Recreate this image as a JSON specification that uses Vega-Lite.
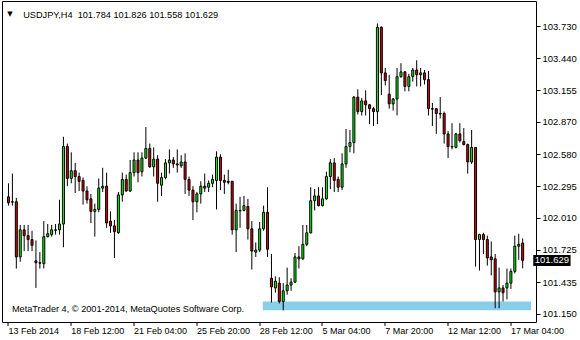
{
  "$schema": "https://vega.github.io/schema/vega-lite/v6.json",
  "width": 534,
  "height": 321,
  "autosize": {"type": "none"},
  "padding": {"left": 2, "top": 1, "right": 44, "bottom": 18},
  "background": "white",
  "config": {
    "view": {"stroke": "black", "strokeWidth": 1},
    "font": "Liberation Sans",
    "axis": {"labelFont": "Liberation Sans", "labelFontSize": 9.5, "labelColor": "black", "tickColor": "black", "domainColor": "black", "grid": false, "title": null, "tickWidth": 1, "labelOverlap": false, "labelSeparation": 0}
  },
  "datasets": {
    "bars": [
      {"i":0,"o":102.199,"h":102.320,"l":102.120,"c":102.146},
      {"i":1,"o":102.151,"h":102.407,"l":102.120,"c":102.155},
      {"i":2,"o":102.155,"h":102.190,"l":101.556,"c":101.660},
      {"i":3,"o":101.660,"h":101.947,"l":101.617,"c":101.903},
      {"i":4,"o":101.903,"h":101.947,"l":101.712,"c":101.851},
      {"i":5,"o":101.851,"h":101.947,"l":101.712,"c":101.816},
      {"i":6,"o":101.816,"h":101.895,"l":101.712,"c":101.764},
      {"i":7,"o":101.625,"h":101.808,"l":101.382,"c":101.608},
      {"i":8,"o":101.608,"h":101.703,"l":101.556,"c":101.604},
      {"i":9,"o":101.599,"h":101.981,"l":101.556,"c":101.842},
      {"i":10,"o":101.842,"h":101.955,"l":101.834,"c":101.868},
      {"i":11,"o":101.860,"h":101.947,"l":101.842,"c":101.903},
      {"i":12,"o":101.899,"h":101.955,"l":101.860,"c":101.903},
      {"i":13,"o":101.903,"h":102.172,"l":101.860,"c":101.955},
      {"i":14,"o":101.955,"h":102.737,"l":101.747,"c":102.650},
      {"i":15,"o":102.650,"h":102.676,"l":102.294,"c":102.364},
      {"i":16,"o":102.364,"h":102.598,"l":102.320,"c":102.433},
      {"i":17,"o":102.433,"h":102.503,"l":102.233,"c":102.381},
      {"i":18,"o":102.381,"h":102.416,"l":102.251,"c":102.338},
      {"i":19,"o":102.346,"h":102.372,"l":102.129,"c":102.251},
      {"i":20,"o":102.251,"h":102.294,"l":102.138,"c":102.172},
      {"i":21,"o":102.181,"h":102.225,"l":101.964,"c":102.068},
      {"i":22,"o":102.068,"h":102.138,"l":101.842,"c":102.086},
      {"i":23,"o":102.086,"h":102.364,"l":102.060,"c":102.277},
      {"i":24,"o":102.277,"h":102.459,"l":102.242,"c":102.294},
      {"i":25,"o":102.294,"h":102.416,"l":101.921,"c":101.964},
      {"i":26,"o":101.981,"h":102.068,"l":101.877,"c":101.938},
      {"i":27,"o":101.938,"h":101.990,"l":101.651,"c":101.886},
      {"i":28,"o":101.877,"h":102.242,"l":101.868,"c":102.216},
      {"i":29,"o":102.216,"h":102.416,"l":102.155,"c":102.355},
      {"i":30,"o":102.355,"h":102.398,"l":102.245,"c":102.251},
      {"i":31,"o":102.251,"h":102.529,"l":102.242,"c":102.416},
      {"i":32,"o":102.416,"h":102.598,"l":102.381,"c":102.529},
      {"i":33,"o":102.529,"h":102.598,"l":102.329,"c":102.416},
      {"i":34,"o":102.424,"h":102.598,"l":102.381,"c":102.546},
      {"i":35,"o":102.546,"h":102.824,"l":102.537,"c":102.633},
      {"i":36,"o":102.633,"h":102.676,"l":102.459,"c":102.468},
      {"i":37,"o":102.468,"h":102.642,"l":102.381,"c":102.537},
      {"i":38,"o":102.537,"h":102.572,"l":102.155,"c":102.320},
      {"i":39,"o":102.303,"h":102.416,"l":102.207,"c":102.372},
      {"i":40,"o":102.372,"h":102.537,"l":102.355,"c":102.503},
      {"i":41,"o":102.503,"h":102.624,"l":102.407,"c":102.529},
      {"i":42,"o":102.529,"h":102.555,"l":102.459,"c":102.494},
      {"i":43,"o":102.494,"h":102.624,"l":102.416,"c":102.485},
      {"i":44,"o":102.477,"h":102.572,"l":102.459,"c":102.511},
      {"i":45,"o":102.511,"h":102.589,"l":102.225,"c":102.355},
      {"i":46,"o":102.355,"h":102.381,"l":102.207,"c":102.259},
      {"i":47,"o":102.259,"h":102.294,"l":101.990,"c":102.155},
      {"i":48,"o":102.155,"h":102.242,"l":102.060,"c":102.225},
      {"i":49,"o":102.225,"h":102.338,"l":102.138,"c":102.294},
      {"i":50,"o":102.294,"h":102.407,"l":102.242,"c":102.277},
      {"i":51,"o":102.285,"h":102.346,"l":102.242,"c":102.320},
      {"i":52,"o":102.320,"h":102.398,"l":102.285,"c":102.355},
      {"i":53,"o":102.346,"h":102.607,"l":102.086,"c":102.555},
      {"i":54,"o":102.555,"h":102.581,"l":102.259,"c":102.346},
      {"i":55,"o":102.346,"h":102.398,"l":102.225,"c":102.329},
      {"i":56,"o":102.338,"h":102.442,"l":102.311,"c":102.329},
      {"i":57,"o":102.338,"h":102.342,"l":101.860,"c":101.903},
      {"i":58,"o":101.903,"h":102.138,"l":101.703,"c":102.077},
      {"i":59,"o":102.077,"h":102.199,"l":101.921,"c":102.073},
      {"i":60,"o":102.077,"h":102.207,"l":102.068,"c":102.120},
      {"i":61,"o":102.112,"h":102.181,"l":101.816,"c":101.912},
      {"i":62,"o":101.912,"h":101.981,"l":101.547,"c":101.712},
      {"i":63,"o":101.703,"h":101.790,"l":101.660,"c":101.721},
      {"i":64,"o":101.721,"h":101.973,"l":101.703,"c":101.912},
      {"i":65,"o":101.912,"h":102.120,"l":101.895,"c":102.060},
      {"i":66,"o":102.060,"h":102.285,"l":101.660,"c":101.729},
      {"i":67,"o":101.469,"h":101.686,"l":101.252,"c":101.391},
      {"i":68,"o":101.382,"h":101.486,"l":101.339,"c":101.443},
      {"i":69,"o":101.425,"h":101.478,"l":101.243,"c":101.260},
      {"i":70,"o":101.260,"h":101.425,"l":101.182,"c":101.356},
      {"i":71,"o":101.356,"h":101.564,"l":101.321,"c":101.408},
      {"i":72,"o":101.408,"h":101.469,"l":101.356,"c":101.434},
      {"i":73,"o":101.434,"h":101.695,"l":101.425,"c":101.660},
      {"i":74,"o":101.660,"h":101.756,"l":101.556,"c":101.643},
      {"i":75,"o":101.643,"h":101.947,"l":101.634,"c":101.773},
      {"i":76,"o":101.773,"h":101.947,"l":101.756,"c":101.877},
      {"i":77,"o":101.877,"h":102.285,"l":101.868,"c":102.164},
      {"i":78,"o":102.164,"h":102.268,"l":102.077,"c":102.207},
      {"i":79,"o":102.207,"h":102.285,"l":102.112,"c":102.120},
      {"i":80,"o":102.120,"h":102.285,"l":102.112,"c":102.181},
      {"i":81,"o":102.181,"h":102.424,"l":102.172,"c":102.381},
      {"i":82,"o":102.381,"h":102.537,"l":102.268,"c":102.503},
      {"i":83,"o":102.503,"h":102.546,"l":102.242,"c":102.346},
      {"i":84,"o":102.355,"h":102.381,"l":102.242,"c":102.285},
      {"i":85,"o":102.285,"h":102.589,"l":102.259,"c":102.494},
      {"i":86,"o":102.494,"h":102.807,"l":102.459,"c":102.650},
      {"i":87,"o":102.650,"h":102.798,"l":102.598,"c":102.685},
      {"i":88,"o":102.685,"h":103.102,"l":102.589,"c":103.093},
      {"i":89,"o":103.093,"h":103.163,"l":102.937,"c":102.963},
      {"i":90,"o":102.963,"h":103.085,"l":102.928,"c":103.059},
      {"i":91,"o":103.059,"h":103.154,"l":102.928,"c":103.024},
      {"i":92,"o":103.024,"h":103.032,"l":102.850,"c":102.989},
      {"i":93,"o":102.989,"h":103.006,"l":102.833,"c":102.963},
      {"i":94,"o":102.963,"h":103.753,"l":102.850,"c":103.719},
      {"i":95,"o":103.719,"h":103.727,"l":103.111,"c":103.310},
      {"i":96,"o":103.310,"h":103.354,"l":103.198,"c":103.241},
      {"i":97,"o":103.119,"h":103.293,"l":102.989,"c":103.032},
      {"i":98,"o":103.032,"h":103.085,"l":102.972,"c":103.076},
      {"i":99,"o":103.076,"h":103.354,"l":102.928,"c":103.276},
      {"i":100,"o":103.276,"h":103.397,"l":103.267,"c":103.319},
      {"i":101,"o":103.319,"h":103.328,"l":103.145,"c":103.189},
      {"i":102,"o":103.189,"h":103.302,"l":103.145,"c":103.276},
      {"i":103,"o":103.276,"h":103.354,"l":103.232,"c":103.336},
      {"i":104,"o":103.336,"h":103.423,"l":103.189,"c":103.293},
      {"i":105,"o":103.293,"h":103.354,"l":103.189,"c":103.310},
      {"i":106,"o":103.310,"h":103.336,"l":103.206,"c":103.250},
      {"i":107,"o":103.250,"h":103.328,"l":102.928,"c":102.989},
      {"i":108,"o":102.989,"h":103.041,"l":102.833,"c":102.985},
      {"i":109,"o":102.989,"h":102.993,"l":102.763,"c":102.946},
      {"i":110,"o":102.946,"h":103.093,"l":102.902,"c":102.941},
      {"i":111,"o":102.946,"h":102.963,"l":102.676,"c":102.763},
      {"i":112,"o":102.763,"h":102.789,"l":102.546,"c":102.650},
      {"i":113,"o":102.650,"h":102.859,"l":102.624,"c":102.646},
      {"i":114,"o":102.642,"h":102.772,"l":102.633,"c":102.763},
      {"i":115,"o":102.763,"h":102.859,"l":102.685,"c":102.702},
      {"i":116,"o":102.694,"h":102.815,"l":102.659,"c":102.668},
      {"i":117,"o":102.668,"h":102.676,"l":102.407,"c":102.511},
      {"i":118,"o":102.511,"h":102.798,"l":102.494,"c":102.642},
      {"i":119,"o":102.642,"h":102.646,"l":101.573,"c":101.816},
      {"i":120,"o":101.816,"h":101.868,"l":101.538,"c":101.860},
      {"i":121,"o":101.860,"h":101.877,"l":101.686,"c":101.816},
      {"i":122,"o":101.816,"h":101.851,"l":101.582,"c":101.651},
      {"i":123,"o":101.660,"h":101.799,"l":101.495,"c":101.634},
      {"i":124,"o":101.643,"h":101.686,"l":101.200,"c":101.347},
      {"i":125,"o":101.347,"h":101.564,"l":101.200,"c":101.382},
      {"i":126,"o":101.382,"h":101.408,"l":101.260,"c":101.339},
      {"i":127,"o":101.382,"h":101.556,"l":101.278,"c":101.425},
      {"i":128,"o":101.425,"h":101.556,"l":101.373,"c":101.530},
      {"i":129,"o":101.530,"h":101.851,"l":101.512,"c":101.756},
      {"i":130,"o":101.756,"h":101.868,"l":101.634,"c":101.773},
      {"i":131,"o":101.784,"h":101.826,"l":101.558,"c":101.629}
    ],
    "zone": [{"from": 64.8, "to": 133.125, "low": 101.182, "high": 101.260}],
    "last": [{"from": 133.7, "to": 143.2, "price": 101.629, "label": "101.629"}]
  },
  "layer": [
    {
      "data": {"name": "zone"},
      "mark": {"type": "rect", "color": "#87ceeb"},
      "encoding": {
        "x": {"field": "from", "type": "quantitative", "scale": {"domain": [-0.375, 133.125], "nice": false, "zero": false},
          "axis": {"values": [0,16,32,48,64,80,96,112,128], "tickCount": 20, "labelExpr": "['13 Feb 2014','18 Feb 12:00','21 Feb 04:00','25 Feb 20:00','28 Feb 12:00','5 Mar 04:00','7 Mar 20:00','12 Mar 12:00','17 Mar 04:00'][round(datum.value/16)]", "labelAlign": "left", "labelBaseline": "top", "labelFontSize": 9, "tickSize": 4, "labelPadding": 1, "labelOffset": 0, "labelFlush": false, "labelOverlap": false, "domain": false, "translate": 0}},
        "x2": {"field": "to"},
        "y": {"field": "low", "type": "quantitative", "scale": {"domain": [101.1214, 103.9098], "nice": false, "zero": false},
          "axis": {"orient": "right", "values": [101.150,101.435,101.725,102.010,102.295,102.580,102.870,103.155,103.440,103.730], "tickCount": 20, "format": ".3f", "tickSize": 4, "labelPadding": 2, "labelAlign": "left", "labelBaseline": "middle", "labelOverlap": false, "labelFlush": false, "domain": false}},
        "y2": {"field": "high"}
      }
    },
    {
      "data": {"name": "bars"},
      "mark": {"type": "rule", "color": "black", "strokeWidth": 1},
      "encoding": {
        "x": {"field": "i", "type": "quantitative", "scale": {"domain": [-0.375, 133.125], "nice": false, "zero": false},
          "axis": {"values": [0,16,32,48,64,80,96,112,128], "tickCount": 20, "labelExpr": "['13 Feb 2014','18 Feb 12:00','21 Feb 04:00','25 Feb 20:00','28 Feb 12:00','5 Mar 04:00','7 Mar 20:00','12 Mar 12:00','17 Mar 04:00'][round(datum.value/16)]", "labelAlign": "left", "labelBaseline": "top", "labelFontSize": 9, "tickSize": 4, "labelPadding": 1, "labelOffset": 0, "labelFlush": false, "labelOverlap": false, "domain": false, "translate": 0}},
        "y": {"field": "l", "type": "quantitative", "scale": {"domain": [101.1214, 103.9098], "nice": false, "zero": false},
          "axis": {"orient": "right", "values": [101.150,101.435,101.725,102.010,102.295,102.580,102.870,103.155,103.440,103.730], "tickCount": 20, "format": ".3f", "tickSize": 4, "labelPadding": 2, "labelAlign": "left", "labelBaseline": "middle", "labelOverlap": false, "labelFlush": false, "domain": false}},
        "y2": {"field": "h"}
      }
    },
    {
      "data": {"name": "bars"},
      "mark": {"type": "bar", "width": 2, "stroke": "black", "strokeWidth": 1},
      "encoding": {
        "x": {"field": "i", "type": "quantitative", "scale": {"domain": [-0.375, 133.125], "nice": false, "zero": false},
          "axis": {"values": [0,16,32,48,64,80,96,112,128], "tickCount": 20, "labelExpr": "['13 Feb 2014','18 Feb 12:00','21 Feb 04:00','25 Feb 20:00','28 Feb 12:00','5 Mar 04:00','7 Mar 20:00','12 Mar 12:00','17 Mar 04:00'][round(datum.value/16)]", "labelAlign": "left", "labelBaseline": "top", "labelFontSize": 9, "tickSize": 4, "labelPadding": 1, "labelOffset": 0, "labelFlush": false, "labelOverlap": false, "domain": false, "translate": 0}},
        "y": {"field": "o", "type": "quantitative", "scale": {"domain": [101.1214, 103.9098], "nice": false, "zero": false},
          "axis": {"orient": "right", "values": [101.150,101.435,101.725,102.010,102.295,102.580,102.870,103.155,103.440,103.730], "tickCount": 20, "format": ".3f", "tickSize": 4, "labelPadding": 2, "labelAlign": "left", "labelBaseline": "middle", "labelOverlap": false, "labelFlush": false, "domain": false}},
        "y2": {"field": "c"},
        "fill": {"condition": {"test": "datum.c >= datum.o", "value": "#00ff00"}, "value": "#e00000"}
      }
    },
    {
      "data": {"name": "last"},
      "mark": {"type": "bar", "orient": "horizontal", "height": 11, "color": "black"},
      "encoding": {
        "x": {"field": "from", "type": "quantitative", "scale": {"domain": [-0.375, 133.125], "nice": false, "zero": false}},
        "x2": {"field": "to"},
        "y": {"field": "price", "type": "quantitative", "scale": {"domain": [101.1214, 103.9098], "nice": false, "zero": false}}
      }
    },
    {
      "data": {"name": "last"},
      "mark": {"type": "text", "color": "white", "fontSize": 9.5, "align": "center", "baseline": "middle", "font": "Liberation Sans"},
      "encoding": {
        "x": {"datum": 138.45, "type": "quantitative", "scale": {"domain": [-0.375, 133.125], "nice": false, "zero": false}},
        "y": {"field": "price", "type": "quantitative", "scale": {"domain": [101.1214, 103.9098], "nice": false, "zero": false}},
        "text": {"field": "label"}
      }
    },
    {
      "data": {"values": [{}]},
      "mark": {"type": "text", "color": "black", "fontSize": 9.2, "align": "left", "baseline": "middle", "font": "Liberation Sans"},
      "encoding": {
        "x": {"datum": 0.875, "type": "quantitative", "scale": {"domain": [-0.375, 133.125], "nice": false, "zero": false}},
        "y": {"datum": 101.191, "type": "quantitative", "scale": {"domain": [101.1214, 103.9098], "nice": false, "zero": false}},
        "text": {"value": "MetaTrader 4, © 2001-2014, MetaQuotes Software Corp."}
      }
    },
    {
      "data": {"values": [{}]},
      "mark": {"type": "text", "color": "black", "fontSize": 7, "align": "left", "baseline": "middle", "font": "DejaVu Sans"},
      "encoding": {
        "x": {"datum": -0.3, "type": "quantitative", "scale": {"domain": [-0.375, 133.125], "nice": false, "zero": false}},
        "y": {"datum": 103.836, "type": "quantitative", "scale": {"domain": [101.1214, 103.9098], "nice": false, "zero": false}},
        "text": {"value": "▼"}
      }
    },
    {
      "data": {"values": [{}]},
      "mark": {"type": "text", "color": "black", "fontSize": 9.2, "align": "left", "baseline": "middle", "font": "Liberation Sans"},
      "encoding": {
        "x": {"datum": 3.75, "type": "quantitative", "scale": {"domain": [-0.375, 133.125], "nice": false, "zero": false}},
        "y": {"datum": 103.832, "type": "quantitative", "scale": {"domain": [101.1214, 103.9098], "nice": false, "zero": false}},
        "text": {"value": "USDJPY,H4\u00a0\u00a0101.784 101.826 101.558 101.629"}
      }
    }
  ]
}
